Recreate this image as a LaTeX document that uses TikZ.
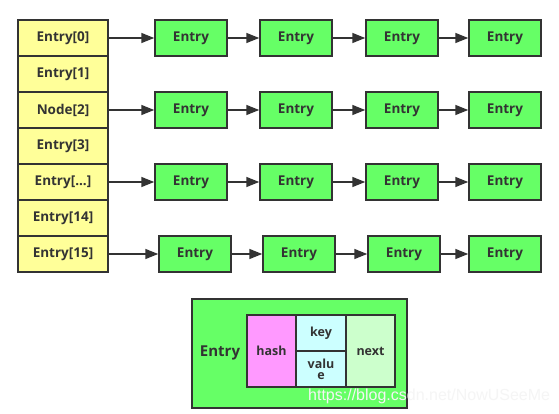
\documentclass[tikz,border=0pt]{standalone}
\usepackage{fontspec}
\setmainfont{Open Sans}
\newfontfamily\wmfont{Liberation Sans}
\usetikzlibrary{arrows.meta}
\definecolor{arr}{HTML}{FFFF99}
\definecolor{ent}{HTML}{66FF66}
\definecolor{hashc}{HTML}{FF99FF}
\definecolor{kvc}{HTML}{CCFFFF}
\definecolor{nextc}{HTML}{CCFFCC}
\definecolor{edge}{HTML}{333333}
\tikzset{
  cell/.style={draw=edge, line width=1.5pt, fill=arr, minimum width=90pt, minimum height=36pt, inner sep=0pt, font=\bfseries\fontsize{13.5}{15}\selectfont, text=edge},
  entbox/.style={draw=edge, line width=1.5pt, fill=ent, minimum width=72pt, minimum height=36pt, inner sep=0pt, font=\bfseries\fontsize{13.5}{15}\selectfont, text=edge},
  link/.style={draw=edge, line width=1.5pt, -{Triangle[length=13pt,width=10pt]}},
  part/.style={draw=edge, line width=1.5pt, inner sep=0pt, font=\bfseries\fontsize{12.5}{13}\selectfont, text=edge, align=center}
}
\begin{document}
\begin{tikzpicture}[x=1pt,y=-1pt]
\useasboundingbox[fill=white] (0,0) rectangle (559,414);
% array cells
\node[cell] (a0) at (63,38) {Entry[0]};
\node[cell] (a1) at (63,74) {Entry[1]};
\node[cell] (a2) at (63,110) {Node[2]};
\node[cell] (a3) at (63,146) {Entry[3]};
\node[cell] (a4) at (63,182) {Entry[...]};
\node[cell] (a5) at (63,218) {Entry[14]};
\node[cell] (a6) at (63,254) {Entry[15]};
% chains
\foreach \r/\y in {0/38, 2/110, 4/182} {
  \node[entbox] (e\r a) at (191,\y) {Entry};
  \node[entbox] (e\r b) at (296,\y) {Entry};
  \node[entbox] (e\r c) at (402,\y) {Entry};
  \node[entbox] (e\r d) at (505,\y) {Entry};
  \draw[link] (a\r) -- (e\r a);
  \draw[link] (e\r a) -- (e\r b);
  \draw[link] (e\r b) -- (e\r c);
  \draw[link] (e\r c) -- (e\r d);
}
\node[entbox] (e6a) at (195,254) {Entry};
\node[entbox] (e6b) at (299,254) {Entry};
\node[entbox] (e6c) at (404,254) {Entry};
\node[entbox] (e6d) at (505,254) {Entry};
\draw[link] (a6) -- (e6a);
\draw[link] (e6a) -- (e6b);
\draw[link] (e6b) -- (e6c);
\draw[link] (e6c) -- (e6d);
% legend
\node[draw=edge, line width=1.5pt, fill=ent, minimum width=215pt, minimum height=109pt, inner sep=0pt] (leg) at (299.5,353.5) {};
\node[font=\bfseries\fontsize{15}{17}\selectfont, text=edge] (legt) at (220,353) {Entry};
\node[part, fill=hashc, minimum width=49pt, minimum height=72pt] (hash) at (271.5,351) {hash};
\node[part, fill=kvc, minimum width=50pt, minimum height=36pt] (key) at (321,333) {key};
\node[part, fill=kvc, minimum width=50pt, minimum height=36pt] (val) at (321,369) {valu\\[-2pt]e};
\node[part, fill=nextc, minimum width=49pt, minimum height=72pt] (next) at (370.5,351) {next};
% watermark
\node[anchor=west, inner sep=0pt, font=\wmfont\fontsize{16}{18}\selectfont, text=white!92!gray] (wm) at (308,396) {https://blog.csdn.net/NowUSeeMe};
\end{tikzpicture}
\end{document}
